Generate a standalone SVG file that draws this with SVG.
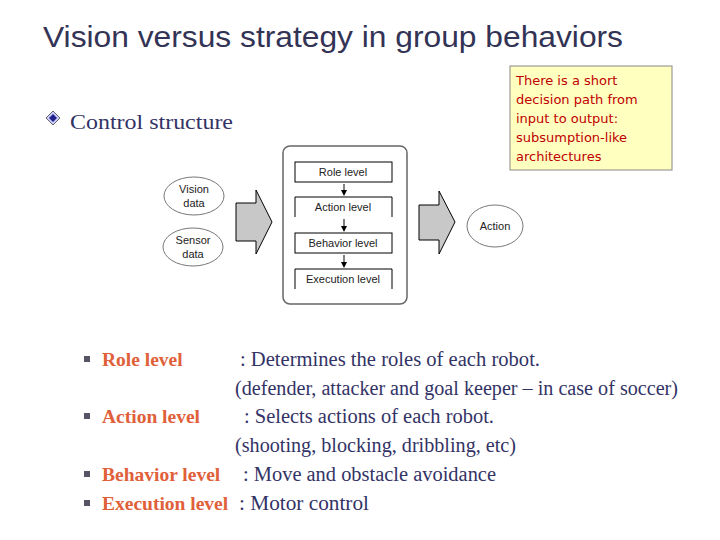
<svg xmlns="http://www.w3.org/2000/svg" width="720" height="540" viewBox="0 0 720 540">
<style>
.t{font-family:"Liberation Serif",serif;font-size:20px;fill:#333366}
.b{font-family:"Liberation Serif",serif;font-size:19.5px;font-weight:bold;fill:#e0603a}
.s{font-family:"Liberation Sans",Arial,sans-serif;font-size:11px;fill:#222;text-anchor:middle}
.n{font-family:"DejaVu Sans",sans-serif;font-size:13px;fill:#c00000}
.ln{fill:none;stroke:#000;stroke-width:1}
.el{fill:#fff;stroke:#777;stroke-width:1}
.big{fill:#c8c8c8;stroke:#000;stroke-width:1}
</style>
<defs><marker id="ah" markerWidth="6" markerHeight="6" refX="3" refY="3" orient="auto"><path d="M0,0L6,3L0,6z" fill="#000"/></marker></defs>
<rect width="720" height="540" fill="#fff"/>
<text x="43" y="47" font-family="Liberation Sans,Arial,sans-serif" font-size="30" fill="#333355" textLength="580" lengthAdjust="spacingAndGlyphs">Vision versus strategy in group behaviors</text>
<g id="bullet-control">
<path d="M53,111L60,118L53,125L46,118z" fill="#ccccff" stroke="#666"/><path d="M53,114L57,118L53,122L49,118z" fill="#22228a"/>
<text x="70" y="129" font-family="Liberation Serif,serif" font-size="22" fill="#333366" textLength="163" lengthAdjust="spacingAndGlyphs">Control structure</text>
</g>
<g id="note">
<rect x="510" y="66" width="162" height="104" fill="#ffffc0" stroke="#888"/>
<text class="n" x="516" y="85">There is a short</text>
<text class="n" x="516" y="104">decision path from</text>
<text class="n" x="516" y="123">input to output:</text>
<text class="n" x="516" y="142">subsumption-like</text>
<text class="n" x="516" y="161">architectures</text>
</g>
<g id="vision"><ellipse class="el" cx="194" cy="196" rx="30" ry="19"/><text class="s" x="194" y="193">Vision</text><text class="s" x="194" y="207">data</text></g>
<g id="sensor"><ellipse class="el" cx="193" cy="247" rx="30" ry="19"/><text class="s" x="193" y="244">Sensor</text><text class="s" x="193" y="258">data</text></g>
<g id="arrow-in"><path class="big" d="M236,203H256V190L272,222L256,254V241H236z"/></g>
<g id="controller">
<rect x="283" y="146" width="124" height="158" rx="7" fill="#fff" stroke="#666" stroke-width="1.5"/>
<rect x="295" y="162" width="97" height="20" class="ln"/><text class="s" x="343" y="176">Role level</text>
<path class="ln" d="M295,217V197H392V217"/><text class="s" x="343" y="211">Action level</text>
<rect x="295" y="233" width="97" height="20" class="ln"/><text class="s" x="343" y="247">Behavior level</text>
<path class="ln" d="M295,289V269H392V289"/><text class="s" x="343" y="283">Execution level</text>
</g>
<g id="connectors">
<line x1="344" y1="184" x2="344" y2="193" class="ln" marker-end="url(#ah)"/>
<line x1="344" y1="219" x2="344" y2="229" class="ln" marker-end="url(#ah)"/>
<line x1="344" y1="255" x2="344" y2="265" class="ln" marker-end="url(#ah)"/>
</g>
<g id="arrow-out"><path class="big" d="M419,205H439V191L455,222L439,254V240H419z"/></g>
<g id="action"><ellipse class="el" cx="495" cy="226" rx="28" ry="21"/><text class="s" x="495" y="230">Action</text></g>
<g id="list" fill="#556">
<rect x="84" y="356" width="6" height="6"/><rect x="84" y="413" width="6" height="6"/><rect x="84" y="471" width="6" height="6"/><rect x="84" y="500" width="6" height="6"/>
<text class="b" x="102" y="366">Role level</text>
<text class="t" x="240" y="366" textLength="300" lengthAdjust="spacingAndGlyphs">:  Determines the roles of each robot.</text>
<text class="t" x="235" y="395" textLength="443" lengthAdjust="spacingAndGlyphs">(defender, attacker and goal keeper – in case of soccer)</text>
<text class="b" x="102" y="423">Action level</text>
<text class="t" x="244" y="423" textLength="250" lengthAdjust="spacingAndGlyphs">:  Selects actions of each robot.</text>
<text class="t" x="235" y="452" textLength="281" lengthAdjust="spacingAndGlyphs">(shooting, blocking, dribbling, etc)</text>
<text class="b" x="102" y="481">Behavior level</text>
<text class="t" x="243" y="481" textLength="253" lengthAdjust="spacingAndGlyphs">:  Move and obstacle avoidance</text>
<text class="b" x="102" y="510">Execution level</text>
<text class="t" x="239" y="510" textLength="130" lengthAdjust="spacingAndGlyphs">:  Motor control</text>
</g>
</svg>
